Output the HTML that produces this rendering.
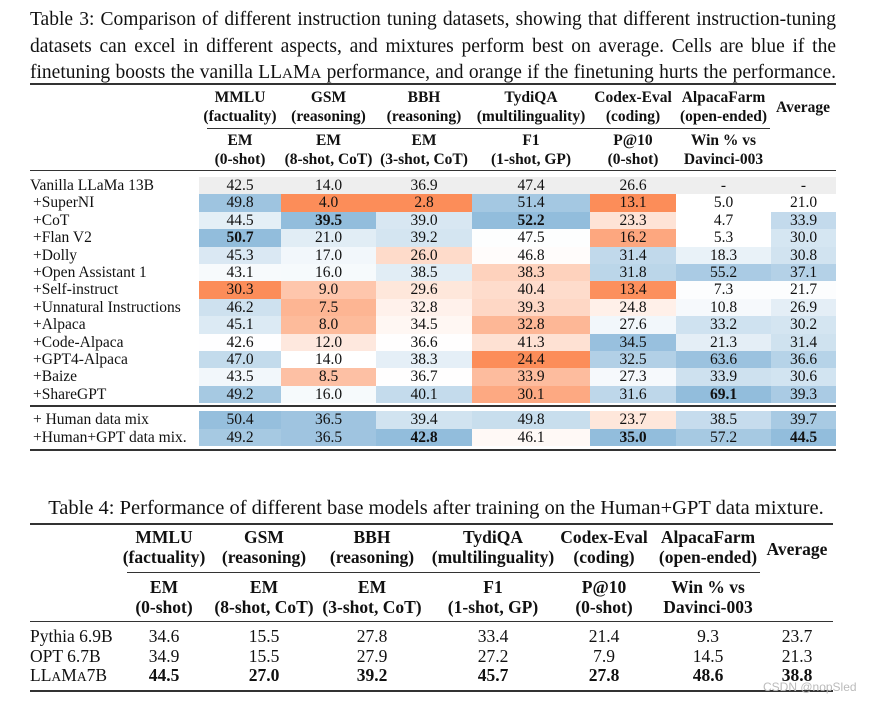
<!DOCTYPE html>
<html><head><meta charset="utf-8">
<style>
body{margin:0;width:872px;height:704px;background:#fff;position:relative;overflow:hidden;font-family:"Liberation Serif",serif;color:#111}
.a{position:absolute;white-space:nowrap}
.cap{position:absolute;left:30px;width:806px;font-size:19.5px;text-align:justify;text-align-last:justify;line-height:20px}
.rule{position:absolute;background:#333}
.h{position:absolute;font-weight:bold;font-size:15.5px;text-align:center;line-height:19px;transform:translateX(-50%);white-space:nowrap}
.c{position:absolute;text-align:center;font-size:15.5px;line-height:17.4px}
.lbl{position:absolute;font-size:15.5px;line-height:17.4px;white-space:nowrap}
.sc{font-size:0.78em}
</style></head><body>
<div class="cap" style="top:10px">Table 3: Comparison of different instruction tuning datasets, showing that different instruction-tuning</div>
<div class="cap" style="top:37px">datasets can excel in different aspects, and mixtures perform best on average. Cells are blue if the</div>
<div class="cap" style="top:63px">finetuning boosts the vanilla LL<span class="sc">A</span>M<span class="sc">A</span> performance, and orange if the finetuning hurts the performance.</div>
<div class="rule" style="left:30px;top:83px;width:806px;height:2px"></div>
<div class="rule" style="left:207px;top:128px;width:563px;height:1px"></div>
<div class="rule" style="left:30px;top:170px;width:806px;height:1px"></div>
<div class="rule" style="left:30px;top:405px;width:806px;height:1.5px"></div>
<div class="rule" style="left:30px;top:449px;width:806px;height:2px"></div>
<div id="t3"></div>
<div class="a" style="left:0;width:872px;text-align:center;top:497px;font-size:20.5px">Table 4: Performance of different base models after training on the Human+GPT data mixture.</div>
<div class="rule" style="left:30px;top:523px;width:803px;height:1.5px"></div>
<div class="rule" style="left:127px;top:572px;width:633px;height:1px"></div>
<div class="rule" style="left:30px;top:621px;width:803px;height:1px"></div>
<div class="rule" style="left:30px;top:690px;width:803px;height:1.5px"></div>
<div id="t4"></div>
<div class="a" style="left:763px;top:680px;font-size:12px;color:#bbb;font-family:'Liberation Sans',sans-serif">CSDN @nopSled</div>
<script>
const heads=[["MMLU","(factuality)","EM","(0-shot)"],["GSM","(reasoning)","EM","(8-shot, CoT)"],["BBH","(reasoning)","EM","(3-shot, CoT)"],["TydiQA","(multilinguality)","F1","(1-shot, GP)"],["Codex-Eval","(coding)","P@10","(0-shot)"],["AlpacaFarm","(open-ended)","Win % vs","Davinci-003"]];
const rowLabels=["Vanilla LLaMa 13B","+SuperNI","+CoT","+Flan V2","+Dolly","+Open Assistant 1","+Self-instruct","+Unnatural Instructions","+Alpaca","+Code-Alpaca","+GPT4-Alpaca","+Baize","+ShareGPT","+ Human data mix","+Human+GPT data mix."];
const mmlu=[42.5,49.8,44.5,50.7,45.3,43.1,30.3,46.2,45.1,42.6,47.0,43.5,49.2,50.4,49.2];
const gsm=[14.0,4.0,39.5,21.0,17.0,16.0,9.0,7.5,8.0,12.0,14.0,8.5,16.0,36.5,36.5];
const bbh=[36.9,2.8,39.0,39.2,26.0,38.5,29.6,32.8,34.5,36.6,38.3,36.7,40.1,39.4,42.8];
const tydi=[47.4,51.4,52.2,47.5,46.8,38.3,40.4,39.3,32.8,41.3,24.4,33.9,30.1,49.8,46.1];
const codex=[26.6,13.1,23.3,16.2,31.4,31.8,13.4,24.8,27.6,34.5,32.5,27.3,31.6,23.7,35.0];
const alpaca=[null,5.0,4.7,5.3,18.3,55.2,7.3,10.8,33.2,21.3,63.6,33.9,69.1,38.5,57.2];
const avg=[null,21.0,33.9,30.0,30.8,37.1,21.7,26.9,30.2,31.4,36.6,30.6,39.3,39.7,44.5];
const bold=[[3],[2],[14],[2],[14],[12],[14]];
const cols=[mmlu,gsm,bbh,tydi,codex,alpaca,avg];
const edges=[199,281,376,472,590,676,771,836];
const rowTop=i=>i<13?177+i*17.4:411+(i-13)*17.5;
const t3=document.getElementById('t3');
function mk(parent,cls,css,html){const d=document.createElement('div');d.className=cls;d.style.cssText=css;d.innerHTML=html;parent.appendChild(d);return d;}
heads.forEach((h,j)=>{const cx=(edges[j]+edges[j+1])/2;
 let e=mk(t3,'h',`left:${cx}px;top:88px`,h[0]+'<br>'+h[1]);
 
 
 e=mk(t3,'h',`left:${cx}px;top:131px`,h[2]+'<br>'+h[3]);
 
 });
let av=mk(t3,'h',`left:803px;top:98px`,'Average');


const B=[140,185,218],O=[252,141,89];
function mix(c,t){t=Math.max(0,Math.min(1,t));return `rgb(${c.map(v=>Math.round(255+(v-255)*t)).join(',')})`;}
cols.forEach((col,j)=>{
 const noBase=col[0]==null;
 const base=noBase?(j==5?5.5:21.0):col[0];
 const vals=col.slice(1).filter(v=>v!=null);
 const maxUp=Math.max(...vals.map(v=>v-base),0.001),maxDn=Math.max(...vals.map(v=>base-v),0.001);
 col.forEach((v,i)=>{
  let bg;
  if(i==0)bg='#eeeeee';else{const d=v-base;bg=d>=0?mix(B,d/maxUp*0.95):(noBase?'#fff':mix(O,-d/maxDn));}
  const isB=bold[j].includes(i);
  const c=mk(t3,'c',`left:${edges[j]}px;width:${edges[j+1]-edges[j]}px;top:${rowTop(i)}px;height:17.5px;background:${bg};${isB?'font-weight:bold':''}`,v==null?'-':v.toFixed(1));
  
  
 });});
rowLabels.forEach((l,i)=>{const e=mk(t3,'lbl',`left:${i==0?30:33}px;top:${rowTop(i)}px`,l);
 
 });
const t4=document.getElementById('t4');
const t4rows=["Pythia 6.9B","OPT 6.7B","LL<span class='sc'>A</span>M<span class='sc'>A</span>7B"];
const t4vals=[[34.6,15.5,27.8,33.4,21.4,9.3,23.7],[34.9,15.5,27.9,27.2,7.9,14.5,21.3],[44.5,27.0,39.2,45.7,27.8,48.6,38.8]];
const c4=[164,264,372,493,604,708,797];
heads.forEach((h,j)=>{let e=mk(t4,'h',`left:${c4[j]}px;top:527px;font-size:17.5px;line-height:20px`,h[0]+'<br>'+h[1]);
 
 
 e=mk(t4,'h',`left:${c4[j]}px;top:577px;font-size:17.5px;line-height:20px`,h[2]+'<br>'+h[3]);
 
 });
av=mk(t4,'h',`left:797px;top:540px;font-size:17.5px`,'Average');


t4rows.forEach((l,i)=>{const y=626+i*19.5;
 let e=mk(t4,'lbl',`left:30px;top:${y}px;font-size:17.5px;line-height:20px`,l);
 
 
 t4vals[i].forEach((v,j)=>{const c=mk(t4,'c',`left:${c4[j]-50}px;width:100px;top:${y}px;font-size:17.5px;line-height:20px;${i==2?'font-weight:bold':''}`,v.toFixed(1));
  
  });});
</script>
</body></html>
